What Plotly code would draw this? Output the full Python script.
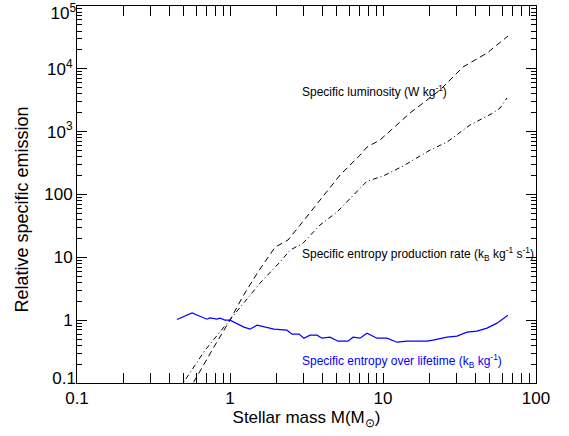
import math
import plotly.graph_objects as go

# Specific luminosity (dashed)
lum_mass = [0.508, 0.573, 0.798, 1.0, 1.216, 1.52, 1.97, 2.39, 2.87, 3.87, 5.24, 7.08, 7.86, 9.55, 15.0, 23.6, 33.3, 47.9, 65.6]
lum_val = [0.053, 0.099, 0.40, 1.0, 2.41, 5.8, 14.5, 18.8, 32.6, 81.4, 204, 424, 569, 735, 1977, 4595, 10680, 17860, 33300]

# Specific entropy production rate (dash-dot)
epr_mass = [0.438, 0.493, 0.687, 1.0, 1.253, 1.57, 2.12, 2.47, 3.0, 3.87, 5.0, 6.27, 7.86, 10.0, 13.5, 20.3, 26.2, 37.0, 52.3, 58.2, 64.6]
epr_val = [0.053, 0.099, 0.333, 1.0, 1.93, 3.88, 8.39, 13.0, 16.8, 32.6, 52.5, 94.3, 163, 196, 283, 509, 683, 1274, 1977, 2378, 3430]

# Specific entropy over lifetime (blue solid)
ent_mass = [0.450, 0.565, 0.707, 0.740, 0.822, 0.860, 0.927, 1.0, 1.234, 1.351, 1.502, 1.940, 2.358, 2.542,
            2.825, 3.046, 3.334, 3.703, 3.994, 4.505, 5.080, 5.905, 6.368, 7.074, 7.862, 9.14, 10.62, 12.35,
            14.35, 16.94, 19.40, 21.23, 26.20, 30.45, 35.40, 41.15, 47.84, 55.61, 60.85, 65.6]
ent_val = [1.026, 1.307, 1.037, 1.088, 1.037, 1.076, 1.0, 1.0, 0.774, 0.719, 0.833, 0.719, 0.693, 0.599,
           0.599, 0.517, 0.577, 0.577, 0.517, 0.536, 0.463, 0.463, 0.536, 0.517, 0.621, 0.517, 0.517, 0.446,
           0.463, 0.463, 0.463, 0.480, 0.536, 0.556, 0.644, 0.668, 0.746, 0.896, 1.037, 1.20]

x_tickvals = [0.1, 1, 10, 100]
x_ticktext = ["0.1", "1", "10", "100"]
y_tickvals = [0.1, 1, 10, 100, 1000, 10000, 100000]
y_ticktext = ["0.1", "1", "10", "100", "10<sup>3</sup>", "10<sup>4</sup>", "10<sup>5</sup>"]

labels = [
    ("Specific luminosity (W kg<sup>-1</sup>)", 2.87, 4450, "black"),
    ("Specific entropy production rate (k<sub>B</sub> kg<sup>-1</sup> s<sup>-1</sup>)", 2.87, 11.2, "black"),
    ("Specific entropy over lifetime (k<sub>B</sub> kg<sup>-1</sup>)", 2.87, 0.222, "#0000ff"),
]

x_minor = [m * d for d in (0.1, 1, 10) for m in range(2, 10)]
y_minor = [m * d for d in (0.1, 1, 10, 100, 1000, 10000) for m in range(2, 10)]

FONT = "Liberation Sans, Arial, Helvetica, sans-serif"
TICKFONT = dict(family=FONT, size=17, color="black")
Y_RANGE = [-1, 5]

fig = go.Figure()
fig.add_trace(go.Scatter(x=lum_mass, y=lum_val, mode="lines",
                         line=dict(color="black", width=1, dash="6px,4px"), showlegend=False))
fig.add_trace(go.Scatter(x=epr_mass, y=epr_val, mode="lines", yaxis="y3",
                         line=dict(color="black", width=1, dash="5px,3px,1px,3px"), showlegend=False))
fig.add_trace(go.Scatter(x=ent_mass, y=ent_val, mode="lines", yaxis="y2",
                         line=dict(color="#0000ff", width=1.2), showlegend=False))

for text, xv, yv, color in labels:
    fig.add_annotation(x=math.log10(xv), y=math.log10(yv), xref="x", yref="y", text=text,
                       showarrow=False, xanchor="left", yanchor="middle",
                       font=dict(family=FONT, size=12, color=color))

# y-axis title (placed slightly below plot centre as in the reference)
fig.add_annotation(x=-0.12, y=0.46, xref="paper", yref="paper", text="Relative specific emission",
                   textangle=-90, showarrow=False, xanchor="center", yanchor="middle",
                   font=dict(family=FONT, size=18, color="black"))

axis_common = dict(
    type="log", showgrid=False, zeroline=False, automargin=False,
    showline=True, linecolor="black", linewidth=1, mirror="allticks",
    ticks="inside", ticklen=10, tickwidth=1, tickcolor="black",
    tickfont=TICKFONT, tickmode="array", ticklabeloverflow="allow",
)

# main y axis: middle labels only; end labels drawn on overlay axes nudged inward
main_text = ["" if v in (0.1, 100000) else t for v, t in zip(y_tickvals, y_ticktext)]

fig.update_xaxes(**axis_common, range=[-1, 2], tickvals=x_tickvals, ticktext=x_ticktext,
                 minor=dict(tickmode="array", tickvals=x_minor, ticks="inside", ticklen=5, tickcolor="black"),
                 title=dict(text="Stellar mass M(M<sub>⊙</sub>)", font=dict(family=FONT, size=17, color="black"), standoff=2))
fig.update_yaxes(**axis_common, range=Y_RANGE, tickvals=y_tickvals, ticktext=main_text,
                 minor=dict(tickmode="array", tickvals=y_minor, ticks="inside", ticklen=5, tickcolor="black"))

overlay = dict(type="log", range=Y_RANGE, overlaying="y", side="left", anchor="x",
               showgrid=False, zeroline=False, showline=False, ticks="", automargin=False,
               tickfont=TICKFONT, tickmode="array", ticklabeloverflow="allow")
fig.update_layout(
    yaxis2=dict(**overlay, tickvals=[y_tickvals[-1]], ticktext=[y_ticktext[-1]], ticklabelshift=7),
    yaxis3=dict(**overlay, tickvals=[y_tickvals[0]], ticktext=[y_ticktext[0]], ticklabelshift=-5),
)

fig.update_layout(
    width=569, height=436,
    margin=dict(l=77, r=33, t=6, b=53),
    paper_bgcolor="white", plot_bgcolor="white",
    font=dict(family=FONT, color="black"),
)

fig.write_html("out.html", post_script="document.body.style.margin='0px';",
               config={"displayModeBar": False})
